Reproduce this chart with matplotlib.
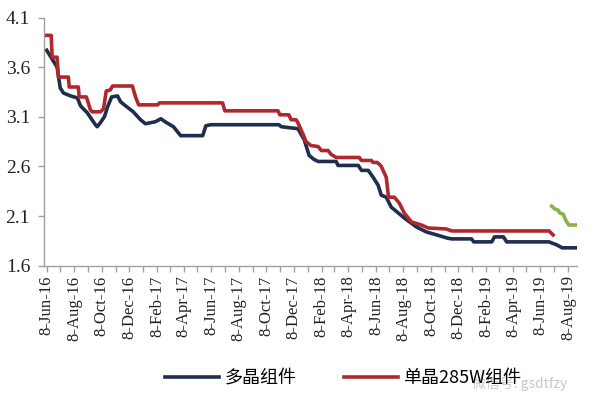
import matplotlib
matplotlib.use("Agg")
import matplotlib.pyplot as plt
import matplotlib.dates as mdates
import numpy as np

plt.rcParams['font.family'] = ['Liberation Serif', 'Noto Sans CJK SC', 'DejaVu Sans']

# 多晶组件 (blue)
poly_dates = ["2016-06-08", "2016-07-01", "2016-07-08", "2016-07-15", "2016-07-31",
              "2016-08-15", "2016-08-22", "2016-09-06", "2016-09-24", "2016-09-28",
              "2016-10-05", "2016-10-14", "2016-10-21", "2016-10-30", "2016-11-12",
              "2016-11-19", "2016-11-30", "2016-12-17", "2017-01-02", "2017-01-13",
              "2017-02-04", "2017-02-16", "2017-03-01", "2017-03-16", "2017-04-01",
              "2017-05-20", "2017-05-27", "2017-06-07", "2017-11-05", "2017-11-10",
              "2017-12-17", "2017-12-31", "2018-01-11", "2018-01-22", "2018-01-31",
              "2018-03-12", "2018-03-16", "2018-04-30", "2018-05-07", "2018-05-22",
              "2018-06-02", "2018-06-13", "2018-06-20", "2018-07-01", "2018-07-12",
              "2018-07-28", "2018-08-10", "2018-09-06", "2018-09-28", "2018-10-21",
              "2018-11-12", "2018-11-23", "2019-01-06", "2019-01-11", "2019-02-20",
              "2019-02-26", "2019-03-18", "2019-03-25", "2019-06-27", "2019-07-14",
              "2019-07-26", "2019-08-28"]
poly_vals = [3.77, 3.60, 3.39, 3.34, 3.31,
             3.29, 3.21, 3.14, 3.02, 3.00,
             3.04, 3.10, 3.20, 3.30, 3.31,
             3.25, 3.21, 3.15, 3.07, 3.03,
             3.05, 3.08, 3.04, 3.00, 2.91,
             2.91, 3.01, 3.02, 3.02, 3.00,
             2.98, 2.87, 2.71, 2.67, 2.65,
             2.65, 2.61, 2.61, 2.56, 2.56,
             2.49, 2.41, 2.31, 2.29, 2.19,
             2.13, 2.08, 1.99, 1.94, 1.91,
             1.88, 1.87, 1.87, 1.84, 1.84,
             1.89, 1.89, 1.84, 1.84, 1.81,
             1.78, 1.78]

# 单晶285W组件 (red)
mono_dates = ["2016-06-08", "2016-06-18", "2016-06-20", "2016-07-01", "2016-07-04",
              "2016-07-26", "2016-07-28", "2016-08-17", "2016-08-19", "2016-09-04",
              "2016-09-13", "2016-09-17", "2016-10-05", "2016-10-12", "2016-10-18",
              "2016-10-27", "2016-11-01", "2016-12-15", "2016-12-22", "2016-12-29",
              "2017-02-09", "2017-02-13", "2017-07-03", "2017-07-08", "2017-11-03",
              "2017-11-07", "2017-11-27", "2017-12-02", "2017-12-13", "2017-12-17",
              "2017-12-28", "2018-01-04", "2018-01-15", "2018-01-31", "2018-02-07",
              "2018-02-22", "2018-03-01", "2018-03-12", "2018-05-02", "2018-05-07",
              "2018-05-29", "2018-06-02", "2018-06-11", "2018-06-16", "2018-06-20",
              "2018-07-01", "2018-07-06", "2018-07-19", "2018-07-30", "2018-08-10",
              "2018-08-26", "2018-09-17", "2018-10-02", "2018-11-11", "2018-11-23",
              "2019-06-27", "2019-07-06"]
mono_vals = [3.92, 3.92, 3.70, 3.70, 3.50,
             3.50, 3.40, 3.40, 3.30, 3.30,
             3.17, 3.15, 3.15, 3.18, 3.36,
             3.37, 3.41, 3.41, 3.30, 3.22,
             3.22, 3.24, 3.24, 3.16, 3.16,
             3.12, 3.12, 3.07, 3.07, 3.04,
             2.93, 2.85, 2.81, 2.80, 2.76,
             2.76, 2.72, 2.69, 2.69, 2.66,
             2.66, 2.64, 2.64, 2.62, 2.60,
             2.49, 2.29, 2.29, 2.23, 2.13,
             2.04, 2.01, 1.98, 1.97, 1.95,
             1.95, 1.91]

# green series (no legend entry)
green_dates = ["2019-07-03", "2019-07-10", "2019-07-17", "2019-07-21", "2019-07-28",
               "2019-08-04", "2019-08-10", "2019-08-28"]
green_vals = [2.20, 2.17, 2.16, 2.13, 2.12, 2.05, 2.01, 2.01]

y_ticks = [1.6, 2.1, 2.6, 3.1, 3.6, 4.1]

poly_d = np.array(poly_dates, dtype="datetime64[D]")
mono_d = np.array(mono_dates, dtype="datetime64[D]")
green_d = np.array(green_dates, dtype="datetime64[D]")

fig = plt.figure(figsize=(5.94, 3.93), dpi=100)
ax = fig.add_axes([44/594, 1-265.7/393, (577-44)/594, (265.7-17.5)/393])

l1, = ax.plot(poly_d, poly_vals, color="#1f2e4e", lw=2.6, solid_joinstyle="round", label="多晶组件")
l2, = ax.plot(mono_d, mono_vals, color="#b0272d", lw=2.6, solid_joinstyle="round", label="单晶285W组件")
ax.plot(green_d, green_vals, color="#8db04e", lw=2.6, solid_joinstyle="round")

ax.set_ylim(1.6, 4.1)
ax.set_yticks(y_ticks)
ax.set_yticklabels(["%.1f" % v for v in y_ticks])
ax.set_xlim(np.datetime64("2016-06-02"), np.datetime64("2019-08-28"))

ax.xaxis.set_major_locator(mdates.MonthLocator(bymonth=[2, 4, 6, 8, 10, 12], bymonthday=8))
ax.xaxis.set_minor_locator(mdates.MonthLocator(bymonthday=8))
ax.xaxis.set_major_formatter(mdates.DateFormatter("%-d-%b-%y"))
plt.setp(ax.get_xticklabels(), rotation=90)

for s in ["top", "right"]:
    ax.spines[s].set_visible(False)
for s in ["left", "bottom"]:
    ax.spines[s].set_color("#a0a0a0")
    ax.spines[s].set_linewidth(1.0)
ax.tick_params(axis="both", which="both", direction="out", color="#a0a0a0", width=1.0)
ax.tick_params(axis="both", which="major", length=4, labelcolor="#222222")
ax.tick_params(axis="x", which="major", labelsize=12, pad=3)
ax.tick_params(axis="y", which="major", labelsize=14, pad=6)
ax.tick_params(axis="x", which="minor", length=4)

fig.legend(handles=[l1, l2], loc="center", bbox_to_anchor=(0.578, 1-378/393), ncol=2,
           frameon=False, handlelength=3.0, columnspacing=2.6, handletextpad=0.3,
           prop={"family": ["Noto Sans CJK SC"], "size": 13})

# faint watermark, as in the source image
fig.text(0.795, 0.004, "微信号: gsdtfzy", color="#9aa6b2", alpha=0.6, fontsize=10,
         family=["Noto Sans CJK SC", "DejaVu Sans"], va="bottom")

fig.savefig("out.png", dpi=100)
